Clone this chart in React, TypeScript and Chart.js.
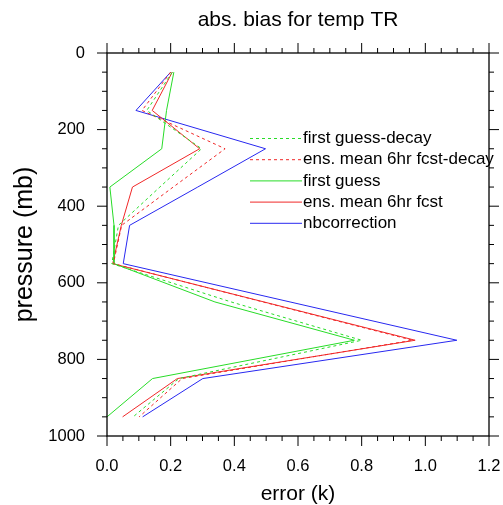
import React, { useEffect, useRef } from "react";
import { Chart, registerables } from "chart.js";

Chart.register(...registerables);

// ---- data ----
const pressureLevels = [50, 150, 250, 350, 450, 550, 650, 750, 850, 950];
const firstGuessDecay = [0.205, 0.125, 0.297, 0.166, 0.036, 0.015, 0.39, 0.8, 0.226, 0.082];
const ensMeanDecay = [0.2, 0.11, 0.371, 0.208, 0.046, 0.02, 0.49, 0.96, 0.236, 0.101];
const firstGuess = [0.21, 0.187, 0.172, 0.009, 0.022, 0.022, 0.339, 0.777, 0.143, 0.0];
const ensMean = [0.205, 0.142, 0.291, 0.08, 0.045, 0.018, 0.493, 0.968, 0.221, 0.049];
const nbCorrection = [0.2, 0.091, 0.498, 0.285, 0.071, 0.051, 0.575, 1.099, 0.301, 0.112];

const seriesLabels = [
  "first guess-decay",
  "ens. mean 6hr fcst-decay",
  "first guess",
  "ens. mean 6hr fcst",
  "nbcorrection",
];
const xTickValues = [0, 0.2, 0.4, 0.6, 0.8, 1.0, 1.2];
const yTickValues = [0, 200, 400, 600, 800, 1000];

const titleText = "abs. bias for temp TR";
const xTitle = "error (k)";
const yTitle = "pressure (mb)";

const FONT = "'Liberation Sans', Arial, Helvetica, sans-serif";
const GREEN = "rgb(40,220,40)";
const RED = "rgb(240,40,40)";
const BLUE = "rgb(40,40,240)";

const toPoints = (vals: number[]) => vals.map((v, i) => ({ x: v, y: pressureLevels[i] }));

const frameTicks = {
  id: "frameTicks",
  afterDraw(chart: any) {
    const { ctx, chartArea: a, scales } = chart;
    const x = scales.x;
    const y = scales.y;
    ctx.save();
    ctx.strokeStyle = "#000";
    ctx.lineWidth = 1.3;
    ctx.strokeRect(a.left, a.top, a.right - a.left, a.bottom - a.top);
    const major = 10;
    const minor = 5;
    const sub = 4;
    ctx.lineWidth = 1;
    const xv = x.ticks.map((t: any) => t.value);
    const drawX = (px: number, len: number) => {
      ctx.beginPath();
      ctx.moveTo(px, a.bottom);
      ctx.lineTo(px, a.bottom + len);
      ctx.moveTo(px, a.top);
      ctx.lineTo(px, a.top - len);
      ctx.stroke();
    };
    xv.forEach((v: number, i: number) => {
      drawX(x.getPixelForValue(v), major);
      if (i < xv.length - 1) {
        for (let k = 1; k < sub; k++) {
          drawX(x.getPixelForValue(v + ((xv[i + 1] - v) * k) / sub), minor);
        }
      }
    });
    const yv = y.ticks.map((t: any) => t.value);
    const drawY = (py: number, len: number) => {
      ctx.beginPath();
      ctx.moveTo(a.left, py);
      ctx.lineTo(a.left - len, py);
      ctx.moveTo(a.right, py);
      ctx.lineTo(a.right + len, py);
      ctx.stroke();
    };
    yv.forEach((v: number, i: number) => {
      drawY(y.getPixelForValue(v), major);
      if (i < yv.length - 1) {
        for (let k = 1; k < sub; k++) {
          drawY(y.getPixelForValue(v + ((yv[i + 1] - v) * k) / sub), minor);
        }
      }
    });
    // title
    ctx.fillStyle = "#000";
    ctx.font = `21px ${FONT}`;
    ctx.textAlign = "center";
    ctx.textBaseline = "middle";
    ctx.fillText(titleText, (a.left + a.right) / 2, 20);
    // legend
    const lx0 = a.left + 143;
    const lx1 = a.left + 195;
    const ly0 = 138.5;
    const dy = 21.2;
    const legendOrder = [0, 1, 2, 3, 4];
    ctx.font = `17px ${FONT}`;
    ctx.textAlign = "left";
    legendOrder.forEach((di, row) => {
      const ds = chart.data.datasets[di];
      const ly = ly0 + row * dy;
      ctx.strokeStyle = ds.borderColor;
      ctx.lineWidth = 1;
      ctx.setLineDash(ds.borderDash || []);
      ctx.beginPath();
      ctx.moveTo(lx0, ly);
      ctx.lineTo(lx1, ly);
      ctx.stroke();
      ctx.setLineDash([]);
      ctx.fillStyle = "#000";
      ctx.fillText(ds.label, lx1 + 1, ly);
    });
    ctx.restore();
  },
};

export default function App() {
  const ref = useRef<HTMLCanvasElement | null>(null);
  useEffect(() => {
    if (!ref.current) return;
    const series = [firstGuessDecay, ensMeanDecay, firstGuess, ensMean, nbCorrection];
    const colors = [GREEN, RED, GREEN, RED, BLUE];
    const dashes = [[3, 3], [3, 3], [], [], []];
    const chart = new Chart(ref.current, {
      type: "scatter",
      data: {
        datasets: series.map((s, i) => ({
          label: seriesLabels[i],
          data: toPoints(s),
          showLine: true,
          borderColor: colors[i],
          backgroundColor: colors[i],
          borderWidth: 1,
          borderDash: dashes[i],
          pointRadius: 0,
          tension: 0,
        })),
      },
      options: {
        animation: false,
        responsive: false,
        devicePixelRatio: 1,
        layout: { padding: { top: 53, right: 14, left: 0, bottom: 0 } },
        plugins: {
          legend: { display: false },
          title: { display: false },
          tooltip: { enabled: false },
        },
        scales: {
          x: {
            type: "linear",
            position: "bottom",
            min: 0,
            max: 1.2,
            afterBuildTicks: (s: any) => {
              s.ticks = xTickValues.map((v) => ({ value: v }));
            },
            afterFit: (s: any) => {
              s.height = 69;
              s.paddingLeft = 0;
              s.paddingRight = 0;
            },
            grid: { display: false, drawTicks: false },
            border: { display: false },
            ticks: {
              padding: 21,
              autoSkip: false,
              maxRotation: 0,
              color: "#000",
              font: { family: FONT, size: 16.5 },
              callback: (v: any) => Number(v).toFixed(1),
            },
            title: {
              display: true,
              text: xTitle,
              color: "#000",
              font: { family: FONT, size: 21, lineHeight: 1 },
              padding: { top: 0, bottom: 0 },
            },
          },
          y: {
            type: "linear",
            position: "left",
            min: 0,
            max: 1000,
            reverse: true,
            afterBuildTicks: (s: any) => {
              s.ticks = yTickValues.map((v) => ({ value: v }));
            },
            afterFit: (s: any) => {
              s.width = 107;
              s.paddingTop = 0;
              s.paddingBottom = 0;
            },
            grid: { display: false, drawTicks: false },
            border: { display: false },
            ticks: {
              padding: 22,
              autoSkip: false,
              color: "#000",
              font: { family: FONT, size: 16.5 },
              callback: (v: any) => String(v),
            },
            title: {
              display: true,
              text: yTitle,
              color: "#000",
              font: { family: FONT, size: 25, lineHeight: 1 },
              padding: { top: 13, bottom: 0 },
            },
          },
        },
      },
      plugins: [frameTicks],
    } as any);
    return () => chart.destroy();
  }, []);
  return (
    <div style={{ position: "absolute", left: 0, top: 0, width: 503, height: 505, background: "#fff" }}>
      <canvas ref={ref} width={503} height={505} style={{ display: "block" }} />
    </div>
  );
}
